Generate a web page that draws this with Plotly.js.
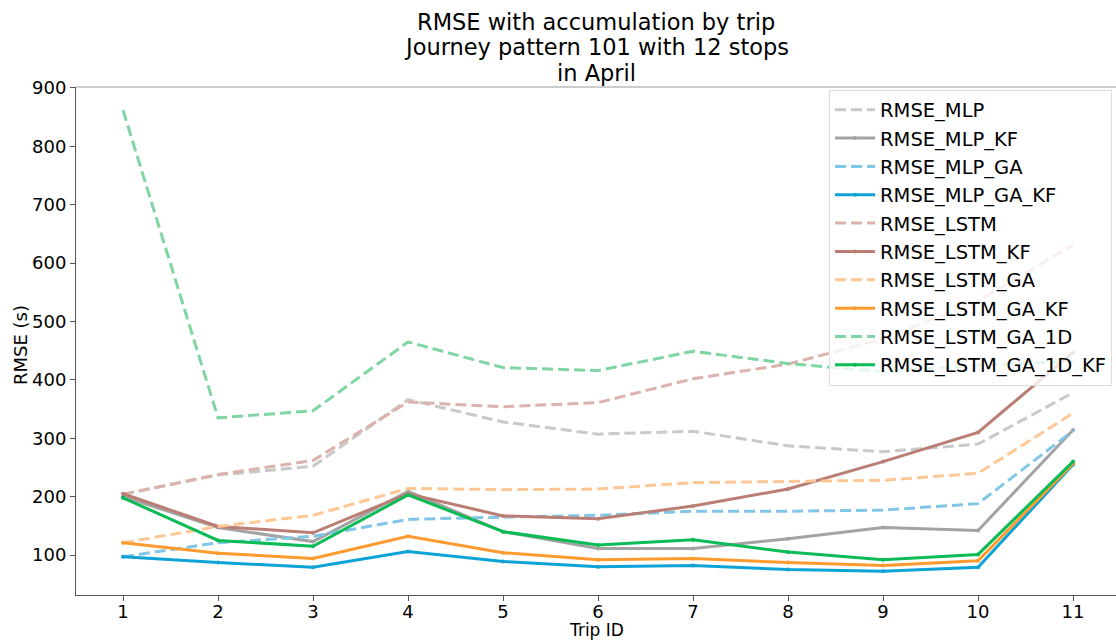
<!DOCTYPE html>
<html>
<head>
<meta charset="utf-8">
<script src="https://cdn.plot.ly/plotly-3.0.1.min.js"></script>
<style>html,body{margin:0;padding:0;background:#fff;}#chart{width:1116px;height:640px;}</style>
</head>
<body>
<div id="chart"></div>
<script>
const trips = [1, 2, 3, 4, 5, 6, 7, 8, 9, 10, 11];
const tickLabels = ["1","2","3","4","5","6","7","8","9","10","11"];
const titleLines = ["RMSE with accumulation by trip", "Journey pattern 101 with 12 stops", "in April"];

const rmseMLP         = [204, 237, 252, 366, 328, 307, 312, 287, 277, 290, 378];
const rmseMLP_KF      = [200, 147, 123, 209, 140, 111, 111, 128, 147, 142, 314];
const rmseMLP_GA      = [97, 121, 132, 161, 165, 168, 175, 175, 177, 188, 313];
const rmseMLP_GA_KF   = [97, 87, 79, 106, 89, 80, 82, 75, 72, 79, 255];
const rmseLSTM        = [204, 238, 262, 362, 354, 361, 402, 427, 470, 535, 631];
const rmseLSTM_KF     = [205, 149, 138, 205, 167, 162, 184, 213, 260, 310, 447];
const rmseLSTM_GA     = [121, 149, 168, 214, 212, 213, 224, 226, 228, 240, 343];
const rmseLSTM_GA_KF  = [121, 103, 94, 132, 104, 92, 94, 87, 82, 90, 257];
const rmseLSTM_GA_1D  = [862, 335, 347, 465, 421, 416, 449, 428, 414, 425, 432];
const rmseLSTM_GA_1D_KF = [198, 125, 115, 203, 140, 117, 126, 105, 92, 101, 260];

const seriesNames = ["RMSE_MLP","RMSE_MLP_KF","RMSE_MLP_GA","RMSE_MLP_GA_KF","RMSE_LSTM","RMSE_LSTM_KF","RMSE_LSTM_GA","RMSE_LSTM_GA_KF","RMSE_LSTM_GA_1D","RMSE_LSTM_GA_1D_KF"];
const seriesValues = [rmseMLP, rmseMLP_KF, rmseMLP_GA, rmseMLP_GA_KF, rmseLSTM, rmseLSTM_KF, rmseLSTM_GA, rmseLSTM_GA_KF, rmseLSTM_GA_1D, rmseLSTM_GA_1D_KF];

const styles = [
  {color:"#c9c9c9", dash:"dash", kf:false},
  {color:"#a3a3a3", dash:"solid", kf:true},
  {color:"#80c6e6", dash:"dash", kf:false},
  {color:"#0ea3d6", dash:"solid", kf:true},
  {color:"#dbb3ac", dash:"dash", kf:false},
  {color:"#bb7e75", dash:"solid", kf:true},
  {color:"#ffc794", dash:"dash", kf:false},
  {color:"#ff9b2e", dash:"solid", kf:true},
  {color:"#7fd6a2", dash:"dash", kf:false},
  {color:"#0bbb55", dash:"solid", kf:true}
];

const traces = seriesNames.map((name, i) => {
  const s = styles[i];
  const t = {
    x: trips, y: seriesValues[i], name: name, type: "scatter",
    mode: s.kf ? "lines+markers" : "lines",
    line: {color: s.color, width: 3, dash: s.dash === "dash" ? "11px,5px" : "solid"}
  };
  if (s.kf) t.marker = {size: 4, color: s.color};
  return t;
});

const plotTop = 87, plotBottom = 595, plotH = plotBottom - plotTop;
const titleY = [22, 47, 73];
const annotations = titleLines.map((txt, i) => ({
  text: txt, xref: "paper", yref: "paper", x: 0.5, xanchor: "center",
  y: (plotBottom - titleY[i]) / plotH, yanchor: "middle", showarrow: false,
  font: {size: 22.5, family: "DejaVu Sans", color: "#000"}
}));
annotations.push({
  text: "Trip ID", xref: "paper", yref: "paper", x: 0.5, xanchor: "center",
  y: (plotBottom - 630) / plotH, yanchor: "middle", showarrow: false,
  font: {size: 17, family: "DejaVu Sans", color: "#000"}
});
annotations.push({
  text: "RMSE (s)", xref: "paper", yref: "paper", x: (20 - 76) / 1040, xanchor: "center",
  y: (plotBottom - 345) / plotH, yanchor: "middle", showarrow: false, textangle: -90,
  font: {size: 18, family: "DejaVu Sans", color: "#000"}
});

const layout = {
  width: 1116, height: 640,
  margin: {l: 76, r: 0, t: 87, b: 45},
  paper_bgcolor: "#fff", plot_bgcolor: "#fff",
  font: {family: "DejaVu Sans", color: "#000"},
  xaxis: {
    range: [0.505, 11.452], tickvals: trips, ticktext: tickLabels,
    showgrid: false, zeroline: false, showline: true, linecolor: "#555", linewidth: 1,
    ticks: "outside", ticklen: 5, tickcolor: "#555", ticklabelstandoff: -5,
    tickfont: {size: 18, family: "DejaVu Sans"}
  },
  yaxis: {
    range: [31.5, 901.7], tickvals: [100,200,300,400,500,600,700,800,900],
    showgrid: false, zeroline: false, showline: true, linecolor: "#555", linewidth: 1,
    ticks: "outside", ticklen: 5, tickcolor: "#555",
    tickfont: {size: 18, family: "DejaVu Sans"}
  },
  annotations: annotations,
  shapes: [{type: "line", xref: "paper", yref: "paper", x0: 0, x1: 1, y0: 1, y1: 1, line: {color: "#bbbbbb", width: 1.5}}],
  legend: {
    x: 0.9962, xanchor: "right", y: 0.995, yanchor: "top",
    bgcolor: "rgba(255,255,255,0.8)", bordercolor: "#dddddd", borderwidth: 1,
    font: {size: 19.5, family: "DejaVu Sans"},
    tracegroupgap: 0, itemwidth: 40
  },
  showlegend: true
};

Plotly.newPlot("chart", traces, layout, {displayModeBar: false, staticPlot: true});
</script>
</body>
</html>
